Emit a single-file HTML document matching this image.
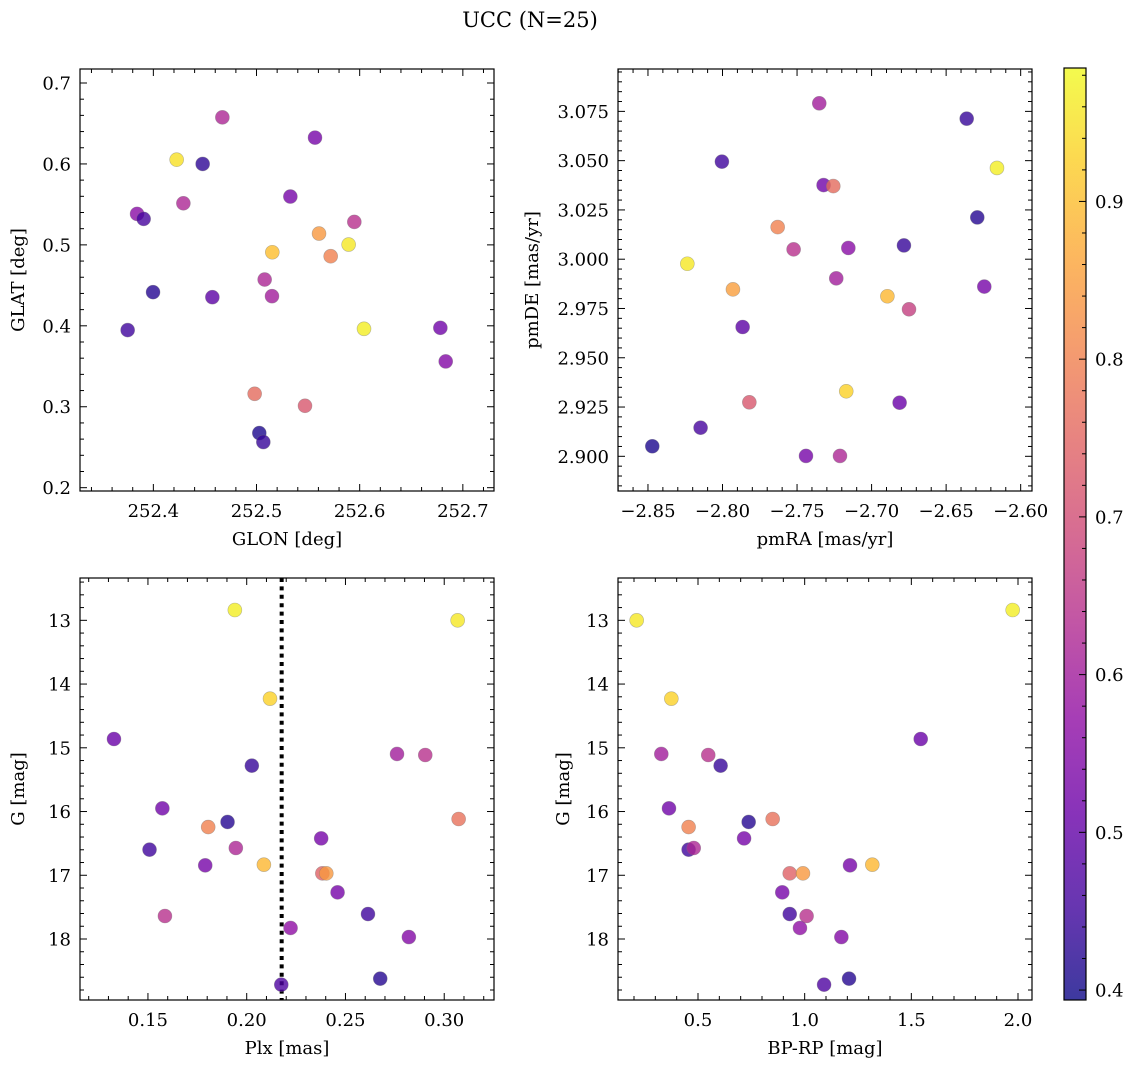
<!DOCTYPE html>
<html><head><meta charset="utf-8"><style>
html,body{margin:0;padding:0;background:#fff;}
svg{display:block;font-family:"DejaVu Serif","Liberation Serif",serif;}
</style></head><body>
<svg id="fig" width="1136" height="1068" viewBox="0 0 1136 1068" xmlns="http://www.w3.org/2000/svg">
<text x="530" y="27" font-size="21" text-anchor="middle">UCC (N=25)</text>
</svg>
<script>
// Panel 1: GLON vs GLAT
const p1Glon=[252.4226,252.4478,252.4669,252.5567,252.3842,252.3906,252.4291,252.5328,252.5948,252.5153,252.5606,252.5893,252.5719,252.3997,252.3751,252.4572,252.5079,252.5150,252.6042,252.6782,252.6834,252.4982,252.5470,252.5027,252.5066];
const p1Glat=[0.6053,0.600,0.6576,0.6325,0.5383,0.5321,0.5514,0.5597,0.5284,0.4909,0.5140,0.5004,0.4860,0.4416,0.3947,0.4354,0.4572,0.4366,0.3963,0.3975,0.3560,0.3160,0.3012,0.2675,0.2564];
const p1Prob=[0.95,0.43,0.62,0.53,0.56,0.46,0.62,0.53,0.64,0.90,0.84,0.96,0.80,0.42,0.45,0.49,0.62,0.60,0.97,0.52,0.55,0.76,0.72,0.41,0.44];
const p1XTicks=[252.4,252.5,252.6,252.7];
const p1YTicks=[0.2,0.3,0.4,0.5,0.6,0.7];
// Panel 2: pmRA vs pmDE
const p2PmRA=[-2.7351,-2.6362,-2.8004,-2.7322,-2.7257,-2.6159,-2.6291,-2.7630,-2.7523,-2.7156,-2.6783,-2.8236,-2.7237,-2.6244,-2.7930,-2.6894,-2.6749,-2.7865,-2.7820,-2.7170,-2.6812,-2.8147,-2.8471,-2.7440,-2.7212];
const p2PmDE=[3.0791,3.0713,3.0495,3.0376,3.0371,3.0463,3.0212,3.0163,3.0050,3.0057,3.0070,2.9977,2.9903,2.9861,2.9847,2.9812,2.9746,2.9656,2.9274,2.9330,2.9272,2.9145,2.9051,2.9002,2.9002];
const p2Prob=[0.60,0.44,0.45,0.52,0.76,0.97,0.42,0.80,0.64,0.56,0.44,0.96,0.60,0.53,0.85,0.89,0.67,0.49,0.72,0.93,0.51,0.46,0.41,0.53,0.62];
const p2XTicks=[-2.85,-2.80,-2.75,-2.70,-2.65,-2.60];
const p2YTicks=[2.900,2.925,2.950,2.975,3.000,3.025,3.050,3.075];
// Panels 3/4: Plx, BP-RP vs G
const plx=[0.1940,0.3068,0.2118,0.1328,0.2026,0.2761,0.2904,0.1573,0.1805,0.1903,0.3073,0.1508,0.1945,0.2377,0.1790,0.2087,0.2383,0.2403,0.2460,0.1586,0.2614,0.2222,0.2821,0.2676,0.2175];
const bprp=[1.975,0.2125,0.375,1.544,0.606,0.328,0.548,0.364,0.456,0.7375,0.85,0.456,0.480,0.716,1.2125,1.317,0.930,0.992,0.895,1.009,0.930,0.978,1.172,1.208,1.091];
const gmag=[12.838,13.0,14.229,14.862,15.280,15.097,15.113,15.950,16.243,16.164,16.117,16.598,16.572,16.421,16.844,16.834,16.970,16.970,17.268,17.639,17.608,17.827,17.969,18.622,18.716];
const p34Prob=[0.97,0.96,0.93,0.51,0.44,0.60,0.64,0.52,0.80,0.42,0.77,0.45,0.62,0.53,0.53,0.89,0.74,0.84,0.53,0.64,0.45,0.57,0.55,0.42,0.47];
const plxLine=[0.2177];
const p3XTicks=[0.15,0.20,0.25,0.30];
const gTicks=[13,14,15,16,17,18];
const p4XTicks=[0.5,1.0,1.5,2.0];
const cbTicks=[0.4,0.5,0.6,0.7,0.8,0.9];
const cbRange=[0.3937,0.9846];

const NS="http://www.w3.org/2000/svg";
const svg=document.getElementById('fig');
const TF=18, LF=18;
function mk(tag,attrs,parent){const e=document.createElementNS(NS,tag);for(const k in attrs)e.setAttribute(k,attrs[k]);(parent||svg).appendChild(e);return e;}
const plasma=[[13,8,135],[65,4,157],[106,0,168],[143,13,164],[177,42,144],[204,71,120],[225,100,98],[242,132,75],[252,166,54],[252,206,37],[240,249,33]];
function cmap(v){let t=(v-cbRange[0])/(cbRange[1]-cbRange[0]);t=Math.max(0,Math.min(1,t));const f=t*10,i=Math.min(9,Math.floor(f)),r=f-i;const a=plasma[i],b=plasma[i+1];return 'rgb('+[0,1,2].map(k=>Math.round(a[k]+(b[k]-a[k])*r)).join(',')+')';}
function fmt(v,d){let s=v.toFixed(d);return s.replace('-','\u2212');}

function panel(cfg){
  const g=mk('g',{});
  
  
  const L=cfg.box[0],T=cfg.box[1],W=cfg.box[2],H=cfg.box[3];
  const sx=v=>L+(v-cfg.xr[0])/(cfg.xr[1]-cfg.xr[0])*W;
  const sy=cfg.yinv? (v=>T+(v-cfg.yr[0])/(cfg.yr[1]-cfg.yr[0])*H) : (v=>T+H-(v-cfg.yr[0])/(cfg.yr[1]-cfg.yr[0])*H);
  if(cfg.vline){const ln=mk('line',{x1:sx(cfg.vline[0]),x2:sx(cfg.vline[0]),y1:T,y2:T+H,stroke:'#000','stroke-width':4,'stroke-dasharray':'4 4.4'},g);
    }
  const pts=mk('g',{},g);
  
  for(let i=0;i<cfg.x.length;i++){
    const c=mk('circle',{cx:sx(cfg.x[i]),cy:sy(cfg.y[i]),r:7,fill:cmap(cfg.c[i]),'fill-opacity':0.8,stroke:'#777','stroke-opacity':0.5,'stroke-width':0.6},pts);
    
    
  }
  const fr=mk('rect',{x:L,y:T,width:W,height:H,fill:'none',stroke:'#000','stroke-width':1.2},g);
  
  const xstep=cfg.xt[1]-cfg.xt[0], xm=xstep/cfg.xmin;
  for(let k=Math.ceil((cfg.xr[0])/xm);k*xm<=cfg.xr[1];k++){const v=k*xm,px=sx(v);const major=Math.abs(Math.round(v/xstep)*xstep-v)<xm*0.01;const len=major?7:4;
    mk('line',{x1:px,x2:px,y1:T+H,y2:T+H-len,stroke:'#000','stroke-width':1},g);mk('line',{x1:px,x2:px,y1:T,y2:T+len,stroke:'#000','stroke-width':1},g);}
  cfg.xt.forEach(v=>{const t=mk('text',{x:sx(v),y:T+H+26,'font-size':TF,'text-anchor':'middle'},g);t.textContent=fmt(v,cfg.xd);
    });
  const ystep=cfg.yt[1]-cfg.yt[0], ym=ystep/cfg.ymin;
  const ylo=Math.min(cfg.yr[0],cfg.yr[1]),yhi=Math.max(cfg.yr[0],cfg.yr[1]);
  for(let k=Math.ceil(ylo/ym-1e-9);k*ym<=yhi;k++){const v=k*ym,py=sy(v);const major=Math.abs(Math.round(v/ystep)*ystep-v)<ym*0.01;const len=major?7:4;
    mk('line',{x1:L,x2:L+len,y1:py,y2:py,stroke:'#000','stroke-width':1},g);mk('line',{x1:L+W,x2:L+W-len,y1:py,y2:py,stroke:'#000','stroke-width':1},g);}
  cfg.yt.forEach(v=>{const t=mk('text',{x:L-9,y:sy(v)+6.5,'font-size':TF,'text-anchor':'end'},g);t.textContent=fmt(v,cfg.yd);
    });
  const xl=mk('text',{x:L+W/2,y:T+H+54,'font-size':LF,'text-anchor':'middle'},g);xl.textContent=cfg.xlab;
  
  const yx=cfg.ylx, yy=T+H/2;
  const yl=mk('text',{x:yx,y:yy,'font-size':LF,'text-anchor':'middle',transform:'rotate(-90 '+yx+' '+yy+')'},g);yl.textContent=cfg.ylab;
  
}
panel({name:'glon-glat-panel',box:[80,69,414,422],xr:[252.3289,252.7302],yr:[0.1959,0.7173],x:p1Glon,y:p1Glat,c:p1Prob,xt:p1XTicks,yt:p1YTicks,xmin:5,ymin:5,xd:1,yd:1,xlab:'GLON [deg]',ylab:'GLAT [deg]',ylx:24});
panel({name:'pm-panel',box:[618,69,414,422],xr:[-2.8701,-2.5924],yr:[2.8824,3.0965],x:p2PmRA,y:p2PmDE,c:p2Prob,xt:p2XTicks,yt:p2YTicks,xmin:5,ymin:5,xd:2,yd:3,xlab:'pmRA [mas/yr]',ylab:'pmDE [mas/yr]',ylx:538});
panel({name:'plx-g-panel',box:[80,578,414,422],xr:[0.1156,0.3252],yr:[12.336,18.957],yinv:true,x:plx,y:gmag,c:p34Prob,xt:p3XTicks,yt:gTicks,xmin:5,ymin:5,xd:2,yd:0,xlab:'Plx [mas]',ylab:'G [mag]',ylx:24,vline:plxLine});
panel({name:'bprp-g-panel',box:[618,578,414,422],xr:[0.125,2.0656],yr:[12.336,18.957],yinv:true,x:bprp,y:gmag,c:p34Prob,xt:p4XTicks,yt:gTicks,xmin:5,ymin:5,xd:1,yd:0,xlab:'BP-RP [mag]',ylab:'G [mag]',ylx:569});

// colorbar
(function(){
  const g=mk('g',{});
  
  const L=1064,T=68,W=22,H=932;
  const defs=mk('defs',{},g);
  const lg=mk('linearGradient',{id:'cbg',x1:0,y1:1,x2:0,y2:0},defs);
  for(let i=0;i<=20;i++){const t=i/20;const v=cbRange[0]+t*(cbRange[1]-cbRange[0]);mk('stop',{offset:t,'stop-color':cmap(v),'stop-opacity':0.8},lg);}
  mk('rect',{x:L,y:T,width:W,height:H,fill:'url(#cbg)',stroke:'#000','stroke-width':1.2},g);
  const sy=v=>T+H-(v-cbRange[0])/(cbRange[1]-cbRange[0])*H;
  for(let k=Math.ceil(cbRange[0]/0.02);k*0.02<=cbRange[1];k++){const v=k*0.02;const major=(k%5===0);
    mk('line',{x1:L+W,x2:L+W-(major?7:4),y1:sy(v),y2:sy(v),stroke:'#000','stroke-width':1},g);}
  cbTicks.forEach(v=>{const t=mk('text',{x:L+W+9,y:sy(v)+6.5,'font-size':TF},g);t.textContent=v.toFixed(1);
    });
})();
</script>
</body></html>
